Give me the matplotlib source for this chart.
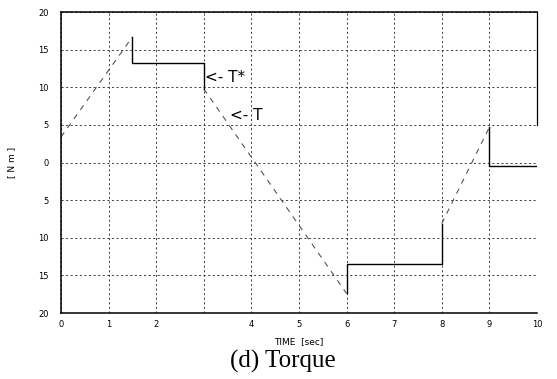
import matplotlib
matplotlib.use('Agg')
import matplotlib.pyplot as plt
import numpy as np

# commanded torque T* (solid steps), NaN breaks the pieces
t_ref = [1.5, 1.5, 3.0, 3.0, np.nan, 6.0, 6.0, 8.0, 8.0, np.nan, 9.0, 9.0, 10.0]
T_ref = [16.7, 13.3, 13.3, 9.8, np.nan, -17.4, -13.5, -13.5, -8.1, np.nan, 4.7, -0.5, -0.5]

# actual torque T (dashed ramps)
t_act = [0.0, 1.5, np.nan, 3.0, 6.0, np.nan, 8.0, 9.0]
T_act = [3.4, 16.7, np.nan, 9.8, -17.4, np.nan, -8.1, 4.7]

x_ticks = list(range(11))
x_labels = ['0', '1', '2', '', '4', '5', '6', '7', '8', '9', '10']
y_ticks = [20, 15, 10, 5, 0, -5, -10, -15, -20]
y_labels = ['20', '15', '10', '5', '0', '5', '10', '15', '20']

fig = plt.figure(figsize=(5.57, 3.79), dpi=100)
ax = fig.add_axes([0.1095, 0.174, 0.8545, 0.794])

ax.plot(t_act, T_act, color='#555555', lw=0.8, linestyle=(0, (5, 5)))
ax.plot(t_ref, T_ref, color='black', lw=1.0)

ax.set_xlim(0, 10)
ax.set_ylim(-20, 20)
ax.set_xticks(x_ticks)
ax.set_xticklabels(x_labels)
ax.set_yticks(y_ticks)
ax.set_yticklabels(y_labels)
ax.tick_params(length=0, labelsize=6)
ax.tick_params(axis='y', pad=9)
ax.tick_params(axis='x', pad=5)
ax.grid(True, color='#222222', lw=0.6, linestyle=(0, (2.5, 3)))

for s in ['left', 'bottom', 'top']:
    ax.spines[s].set_linewidth(1.1)
ax.spines['right'].set_bounds(5, 20)
ax.spines['right'].set_linewidth(0.9)

ax.text(3.03, 11.3, '<- T*', fontsize=11, va='center', ha='left')
ax.text(3.55, 6.2, '<- T', fontsize=11, va='center', ha='left')

ax.set_xlabel('TIME  [sec]', fontsize=6.5, labelpad=6)
ax.set_ylabel('[ N m ]', fontsize=6.5, labelpad=16)

fig.text(0.507, 0.047, '(d) Torque', family='Liberation Serif', fontsize=18,
         ha='center', va='center')

fig.savefig('out.png', dpi=100)
